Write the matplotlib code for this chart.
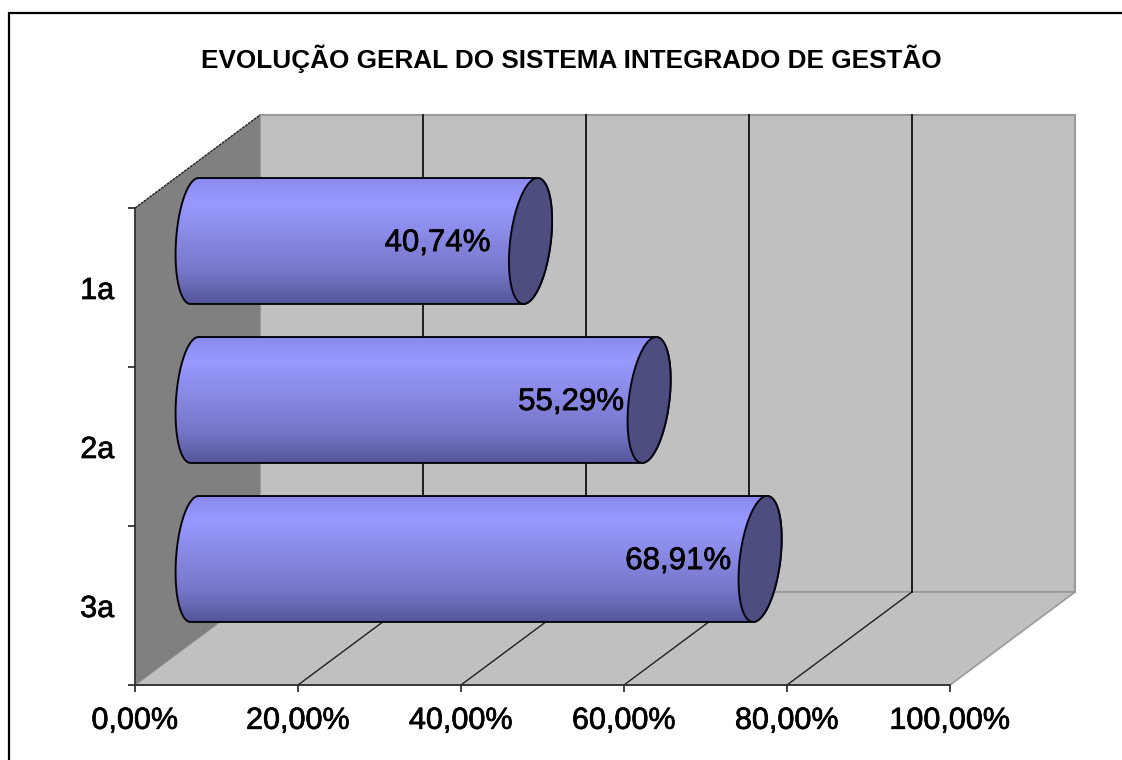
import numpy as np
import matplotlib
matplotlib.use("Agg")
import matplotlib.pyplot as plt
import matplotlib.patheffects as pe
from matplotlib.colors import LinearSegmentedColormap
from matplotlib.patches import Polygon, Rectangle

plt.rcParams['font.family'] = ['Liberation Sans', 'DejaVu Sans']

title = "EVOLUÇÃO GERAL DO SISTEMA INTEGRADO DE GESTÃO"
categories = ["1a", "2a", "3a"]
values = [40.74, 55.29, 68.91]
value_labels = ["40,74%", "55,29%", "68,91%"]
label_shift = [-18, -3, -7]
x_ticks = [0, 20, 40, 60, 80, 100]
x_tick_labels = ["0,00%", "20,00%", "40,00%", "60,00%", "80,00%", "100,00%"]

# 3d depth of the box, in axis units
dx = 15.34
dy = 0.585

W, H = 1122, 760
fig = plt.figure(figsize=(W / 100, H / 100), dpi=100)
ax = fig.add_axes([135 / W, (H - 685) / H, 815 / W, 477 / H])
ax.patch.set_visible(False)

# slightly heavier text, the original is a blurry screenshot
heavy = [pe.withStroke(linewidth=0.5, foreground="black")]

# outer chart frame
fig.add_artist(Rectangle((8.5 / W, -0.1), 1.2, 1.1 - 13 / H, transform=fig.transFigure,
                         fill=False, ec="black", lw=1.6))
fig.text(571 / W, 1 - 59 / H, title, ha="center", va="center", fontsize=18.8, fontweight="bold")

wall = "#c0c0c0"
side = "#808080"
edge = "#9a9a9a"

# back wall, floor, left wall
ax.add_patch(Polygon([(dx, -dy), (100 + dx, -dy), (100 + dx, 3 - dy), (dx, 3 - dy)],
                     fc=wall, ec=edge, lw=1.5, zorder=1, clip_on=False))
ax.add_patch(Polygon([(0, 3), (100, 3), (100 + dx, 3 - dy), (dx, 3 - dy)],
                     fc=wall, ec=edge, lw=1.2, zorder=1, clip_on=False))
ax.add_patch(Polygon([(0, 0), (dx, -dy), (dx, 3 - dy), (0, 3)],
                     fc=side, ec="none", zorder=2, clip_on=False))
ax.plot([0, dx], [0, -dy], color="#202020", lw=1, ls=(0, (2, 0.6)), zorder=2, clip_on=False)

# gridlines on wall and floor
for t in x_ticks[1:-1]:
    ax.plot([t + dx, t + dx], [-dy, 3 - dy], color="#101010", lw=1.3, zorder=3, clip_on=False)
    ax.plot([t, t + dx], [3, 3 - dy], color="#202020", lw=1, zorder=3, clip_on=False)

cmap = LinearSegmentedColormap.from_list("bar", [(0, "#8a8aee"), (0.2, "#9999ff"),
                                                 (0.75, "#7676c8"), (1, "#55559a")])
grad = np.linspace(0, 1, 256).reshape(-1, 1)
b = 0.396

for i, v in enumerate(values):
    cy = i + 0.5 - dy / 2
    x0 = dx / 2 - 0.37
    x1 = v + dx / 2 + 0.12

    # left end is a bit less slanted than the cap
    t = np.linspace(np.pi / 2, 3 * np.pi / 2, 60)
    left = np.c_[x0 + 2.27 * np.cos(t) + 0.49 * np.sin(t), cy - b * np.sin(t)]
    t = np.linspace(-np.pi / 2, np.pi / 2, 60)
    right = np.c_[x1 + 2.5 * np.cos(t) + 0.86 * np.sin(t), cy - b * np.sin(t)]
    body = Polygon(np.r_[left, right], fc="none", ec="#050510", lw=1.4, zorder=6, clip_on=False)
    ax.add_patch(body)

    im = ax.imshow(grad, extent=(x0 - 3, x1 + 4, cy + b, cy - b), cmap=cmap,
                   aspect="auto", zorder=5, interpolation="bilinear")
    im.set_clip_box(fig.bbox)
    im.set_clip_path(body)

    t = np.linspace(0, 2 * np.pi, 120)
    cap = np.c_[x1 + 2.5 * np.cos(t) + 0.86 * np.sin(t), cy - b * np.sin(t)]
    ax.add_patch(Polygon(cap, fc="#4d4d80", ec="#050510", lw=1.4, zorder=7, clip_on=False))

    ax.annotate(value_labels[i], (v + dx / 2 - 2.58, cy), xytext=(label_shift[i] * 0.72, -1.5),
                textcoords="offset points", ha="right", va="center",
                fontsize=22.5, color="black", zorder=8, annotation_clip=False, path_effects=heavy)

ax.set_xlim(0, 100)
ax.set_ylim(3, 0)
ax.set_xticks(x_ticks)
ax.set_xticklabels(x_tick_labels)
ax.set_yticks([0, 1, 2, 3])
ax.set_yticklabels([])
ax.set_yticks([0.5, 1.5, 2.5], minor=True)
ax.set_yticklabels(categories, minor=True)
ax.tick_params(axis="both", which="major", length=5, width=1.2, color="#202020", labelsize=22)
ax.tick_params(axis="x", pad=10)
ax.tick_params(axis="y", which="minor", length=0, pad=15, labelsize=22)
for lab in ax.get_xticklabels() + ax.get_yticklabels(minor=True):
    lab.set_path_effects(heavy)
for name in ["top", "right"]:
    ax.spines[name].set_visible(False)
for name in ["left", "bottom"]:
    ax.spines[name].set_color("#303030")
    ax.spines[name].set_linewidth(1.3)
    ax.spines[name].set_zorder(9)

fig.savefig("out.png", dpi=100)
